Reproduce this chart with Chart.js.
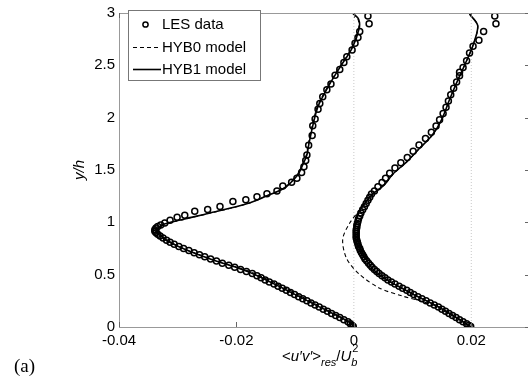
<!DOCTYPE html>
<html>
<head>
<meta charset="utf-8">
<script src="https://cdn.jsdelivr.net/npm/chart.js@4.4.1/dist/chart.umd.min.js"></script>
<style>
    body { margin: 0; overflow: hidden; background: #fff; }
</style>
</head>
<body>
<canvas id="profileChart" width="540" height="381"></canvas>
<script>
// tick values
const xTicks = [-0.04, -0.02, 0, 0.02];
const yTicks = [0, 0.5, 1, 1.5, 2, 2.5, 3];
const zeroLines = [0, 0.02];

// station 1 (left profile)
const les1Y = [0.005, 0.015, 0.03, 0.05, 0.07, 0.09, 0.11, 0.13, 0.15, 0.17, 0.19, 0.21, 0.23, 0.25, 0.27, 0.29,
    0.31, 0.33, 0.35, 0.37, 0.39, 0.41, 0.43, 0.45, 0.47, 0.49, 0.51, 0.53, 0.55, 0.57, 0.59, 0.61, 0.63, 0.65,
    0.67, 0.69, 0.71, 0.73, 0.75, 0.77, 0.79, 0.81, 0.83, 0.85, 0.87, 0.885, 0.90, 0.915, 0.93, 0.945, 0.96,
    0.975, 0.994, 1.021, 1.049, 1.068, 1.105, 1.123, 1.151, 1.198, 1.216, 1.244, 1.272, 1.30, 1.346, 1.383,
    1.421, 1.476, 1.532, 1.59, 1.643, 1.736, 1.829, 1.922, 1.987, 2.08, 2.136, 2.201, 2.266, 2.321, 2.405,
    2.461, 2.526, 2.581, 2.646, 2.711, 2.767, 2.823, 2.897, 2.971];
const les1X = [-0.0001, -0.0003, -0.0006, -0.0010, -0.0017, -0.0024, -0.0031, -0.0038, -0.0045, -0.0052, -0.0059,
    -0.0066, -0.0073, -0.0080, -0.0087, -0.0094, -0.0101, -0.0108, -0.0115, -0.0122, -0.0129, -0.0136, -0.0144,
    -0.0151, -0.0158, -0.0165, -0.0173, -0.0183, -0.0193, -0.0203, -0.0213, -0.0224, -0.0234, -0.0244, -0.0254,
    -0.0263, -0.0272, -0.0281, -0.0290, -0.0298, -0.0306, -0.0313, -0.0319, -0.0325, -0.0330, -0.0334, -0.0337,
    -0.0339, -0.0339, -0.0337, -0.0334, -0.0329, -0.0322, -0.0313, -0.0301, -0.0288, -0.0271, -0.0249, -0.0228,
    -0.0206, -0.0184, -0.0165, -0.0148, -0.0131, -0.0121, -0.0106, -0.0097, -0.0089, -0.0085, -0.0082, -0.0080,
    -0.0077, -0.0071, -0.0070, -0.0066, -0.0061, -0.0058, -0.0053, -0.0046, -0.0039, -0.0032, -0.0024, -0.0017,
    -0.0012, -0.0003, 0.0002, 0.0007, 0.0010, 0.0026, 0.0024];
const hyb1Y = [0, 0.046, 0.204, 0.371, 0.5, 0.557, 0.641, 0.733, 0.8, 0.873, 0.92, 0.975, 1.03, 1.086, 1.179,
    1.253, 1.318, 1.365, 1.458, 1.551, 1.643, 1.736, 1.922, 2.108, 2.293, 2.479, 2.665, 2.851, 2.943, 3.0];
const hyb1X1 = [0, -0.0007, -0.0063, -0.0121, -0.0168, -0.0194, -0.0240, -0.0284, -0.0310, -0.0330, -0.0335,
    -0.0327, -0.0290, -0.0247, -0.0181, -0.0148, -0.0121, -0.0110, -0.0095, -0.0087, -0.0080, -0.0077, -0.0070,
    -0.0061, -0.0044, -0.0024, -0.0003, 0.0009, 0.0008, -0.0002];
const hyb0X1 = [0, -0.0007, -0.0060, -0.0116, -0.0164, -0.0191, -0.0238, -0.0283, -0.0309, -0.0328, -0.0332,
    -0.0325, -0.0288, -0.0246, -0.0181, -0.0149, -0.0122, -0.0111, -0.0096, -0.0088, -0.0081, -0.0078, -0.0071,
    -0.0062, -0.0045, -0.0025, -0.0004, 0.0008, 0.0007, -0.0003];

// station 2 (right profile, shifted by 0.02)
const les2Y = [0.005, 0.015, 0.03, 0.05, 0.07, 0.09, 0.11, 0.13, 0.15, 0.17, 0.19, 0.21, 0.23, 0.25, 0.27, 0.29,
    0.31, 0.33, 0.35, 0.37, 0.39, 0.41, 0.43, 0.45, 0.47, 0.49, 0.51, 0.53, 0.55, 0.57, 0.59, 0.61, 0.63, 0.65,
    0.67, 0.69, 0.71, 0.73, 0.75, 0.77, 0.79, 0.81, 0.83, 0.85, 0.87, 0.89, 0.91, 0.93, 0.95, 0.97, 0.99, 1.01,
    1.035, 1.06, 1.09, 1.12, 1.15, 1.18, 1.21, 1.24, 1.27, 1.30, 1.34, 1.38, 1.42, 1.47, 1.52, 1.57, 1.62, 1.68,
    1.74, 1.80, 1.86, 1.92, 1.98, 2.04, 2.10, 2.16, 2.22, 2.28, 2.34, 2.40, 2.433, 2.479, 2.544, 2.618, 2.683,
    2.739, 2.823, 2.897, 2.971];
const les2X = [0.0199, 0.0196, 0.0192, 0.0186, 0.0180, 0.0174, 0.0168, 0.0162, 0.0156, 0.0150, 0.0144, 0.0137,
    0.0130, 0.0123, 0.0116, 0.0109, 0.0102, 0.0096, 0.0090, 0.0083, 0.0077, 0.0070, 0.0064, 0.0058, 0.0053,
    0.0048, 0.0043, 0.0039, 0.0035, 0.0031, 0.0028, 0.0025, 0.0022, 0.0019, 0.0017, 0.0015, 0.0013, 0.0011,
    0.0010, 0.0008, 0.0007, 0.0006, 0.0005, 0.0004, 0.0004, 0.0004, 0.0004, 0.0004, 0.0005, 0.0005, 0.0006,
    0.0007, 0.0008, 0.0010, 0.0012, 0.0015, 0.0018, 0.0021, 0.0024, 0.0027, 0.0030, 0.0035, 0.0041, 0.0048,
    0.0054, 0.0061, 0.0070, 0.0080, 0.0091, 0.0101, 0.0111, 0.0122, 0.0132, 0.0140, 0.0146, 0.0152, 0.0157,
    0.0161, 0.0165, 0.0170, 0.0175, 0.0180, 0.0180, 0.0186, 0.0192, 0.0197, 0.0203, 0.0213, 0.0221, 0.0242,
    0.0240];
const hyb1Y2 = [0, 0.186, 0.316, 0.436, 0.557, 0.715, 0.836, 0.966, 1.114, 1.272, 1.30, 1.365, 1.458, 1.578,
    1.708, 1.829, 1.987, 2.173, 2.358, 2.544, 2.693, 2.878, 2.99];
const hyb1X2 = [0.0200, 0.0146, 0.0100, 0.0061, 0.0032, 0.0014, 0.0003, 0.0002, 0.0010, 0.0032, 0.0039, 0.0053,
    0.0066, 0.0090, 0.0112, 0.0133, 0.0150, 0.0163, 0.0177, 0.0192, 0.0203, 0.0211, 0.0197];
const hyb0Y2 = [0, 0.186, 0.251, 0.297, 0.371, 0.501, 0.65, 0.836, 0.994, 1.151, 1.272, 1.365, 1.458, 1.578,
    1.708, 1.829, 1.987, 2.173, 2.358, 2.544, 2.693, 2.878, 2.99];
const hyb0X2 = [0.0200, 0.0146, 0.0112, 0.0082, 0.0044, 0.0010, -0.0012, -0.0019, -0.0007, 0.0015, 0.0032,
    0.0053, 0.0066, 0.0090, 0.0112, 0.0133, 0.0150, 0.0163, 0.0177, 0.0192, 0.0203, 0.0211, 0.0197];

const legendLabels = ['LES data', 'HYB0 model', 'HYB1 model'];

function toPoints(ys, xs) {
    return ys.map((y, i) => ({ x: xs[i], y: y }));
}

const FONT = '"Liberation Sans", Arial, Helvetica, sans-serif';

function lesSet(ys, xs) {
    return {
        data: toPoints(ys, xs), showLine: false, pointStyle: 'circle', pointRadius: 3,
        pointBorderWidth: 1.5, pointBorderColor: '#000', pointBackgroundColor: 'rgba(0,0,0,0)', order: 3
    };
}
function lineSet(ys, xs, dashed) {
    return {
        data: toPoints(ys, xs), showLine: true, pointRadius: 0, borderColor: '#000',
        borderWidth: dashed ? 1.1 : 1.6, borderDash: dashed ? [4, 3] : [], tension: 0.3, order: dashed ? 2 : 1
    };
}
function refLine(x) {
    return {
        data: [{ x: x, y: 0 }, { x: x, y: 3 }], showLine: true, pointRadius: 0,
        borderColor: '#c8c8c8', borderWidth: 1, borderDash: [1, 2], order: 5
    };
}

// inward ticks, box, titles and legend
const decorations = {
    id: 'decorations',
    afterDraw(chart) {
        const ctx = chart.ctx;
        const a = chart.chartArea;
        const xs = chart.scales.x, ys = chart.scales.y;
        ctx.save();
        ctx.strokeStyle = '#999';
        ctx.lineWidth = 1;
        ctx.strokeRect(a.left + 0.5, a.top + 0.5, a.right - a.left, a.bottom - a.top);
        ctx.strokeStyle = '#666';
        ctx.beginPath();
        xTicks.forEach(v => {
            const px = Math.round(xs.getPixelForValue(v)) + 0.5;
            ctx.moveTo(px, a.bottom); ctx.lineTo(px, a.bottom - 5);
            ctx.moveTo(px, a.top); ctx.lineTo(px, a.top + 5);
        });
        yTicks.forEach(v => {
            const py = Math.round(ys.getPixelForValue(v)) + 0.5;
            ctx.moveTo(a.right, py); ctx.lineTo(a.right - 5, py);
        });
        ctx.stroke();

        // y title
        ctx.fillStyle = '#000';
        ctx.save();
        ctx.translate(84, (a.top + a.bottom) / 2);
        ctx.rotate(-Math.PI / 2);
        ctx.font = 'italic 15px ' + FONT;
        ctx.textAlign = 'center';
        ctx.textBaseline = 'alphabetic';
        ctx.fillText('y/h', 0, 0);
        ctx.restore();

        // x title: <u'v'>_res / U_b^2
        let x = 282;
        const base = 361;
        ctx.textAlign = 'left';
        ctx.textBaseline = 'alphabetic';
        const put = (txt, font, dy) => {
            ctx.font = font;
            ctx.fillText(txt, x, base + dy);
            x += ctx.measureText(txt).width;
        };
        put('<', '15px ' + FONT, 0);
        put('u\u2032v\u2032', 'italic 15px ' + FONT, 0);
        put('>', '15px ' + FONT, 0);
        put('res', 'italic 11px ' + FONT, 5);
        put('/', '15px ' + FONT, 0);
        put('U', 'italic 15px ' + FONT, 0);
        ctx.font = '11px ' + FONT;
        ctx.fillText('2', x + 1, base - 9);
        ctx.font = 'italic 11px ' + FONT;
        ctx.fillText('b', x, base + 5);

        // panel label
        ctx.font = '19px "Liberation Serif", "Times New Roman", serif';
        ctx.fillText('(a)', 14, 372);

        // legend box
        ctx.fillStyle = '#fff';
        ctx.fillRect(128, 10, 132, 70);
        ctx.strokeStyle = '#777';
        ctx.strokeRect(128.5, 10.5, 132, 70);
        ctx.strokeStyle = '#000';
        ctx.lineWidth = 1.5;
        ctx.beginPath();
        ctx.arc(145.5, 24.5, 2.6, 0, Math.PI * 2);
        ctx.stroke();
        ctx.lineWidth = 1.1;
        ctx.setLineDash([4, 3]);
        ctx.beginPath();
        ctx.moveTo(133, 47.5); ctx.lineTo(161, 47.5);
        ctx.stroke();
        ctx.setLineDash([]);
        ctx.lineWidth = 1.6;
        ctx.beginPath();
        ctx.moveTo(133, 69.5); ctx.lineTo(161, 69.5);
        ctx.stroke();
        ctx.fillStyle = '#000';
        ctx.font = '15px ' + FONT;
        ctx.textBaseline = 'middle';
        legendLabels.forEach((t, i) => ctx.fillText(t, 162, 25 + i * 22.5));
        ctx.restore();
    }
};

const ctx = document.getElementById('profileChart').getContext('2d');
new Chart(ctx, {
    type: 'scatter',
    data: {
        datasets: [
            refLine(zeroLines[0]), refLine(zeroLines[1]),
            lesSet(les1Y, les1X), lesSet(les2Y, les2X),
            lineSet(hyb1Y, hyb0X1, true), lineSet(hyb0Y2, hyb0X2, true),
            lineSet(hyb1Y, hyb1X1, false), lineSet(hyb1Y2, hyb1X2, false)
        ]
    },
    options: {
        responsive: false,
        animation: false,
        layout: { padding: { top: 4, right: 10, left: 0, bottom: 0 } },
        plugins: { legend: { display: false }, tooltip: { enabled: false } },
        scales: {
            x: {
                type: 'linear', min: -0.04, max: 0.03,
                afterBuildTicks: s => { s.ticks = xTicks.map(v => ({ value: v })); },
                afterFit: s => { s.height = 54; },
                grid: { display: false, drawTicks: false },
                border: { display: true, color: '#999' },
                ticks: {
                    padding: 5, color: '#000', font: { family: FONT, size: 15 },
                    callback: v => (v === 0 ? '0' : v.toFixed(2))
                }
            },
            y: {
                type: 'linear', min: 0, max: 3,
                afterBuildTicks: s => { s.ticks = yTicks.map(v => ({ value: v })); },
                afterFit: s => { s.width = 119; },
                grid: { display: false, drawTicks: false },
                border: { display: true, color: '#999' },
                ticks: {
                    padding: 4, color: '#000', font: { family: FONT, size: 15 },
                    callback: v => String(v)
                }
            }
        }
    },
    plugins: [decorations]
});
</script>
</body>
</html>
